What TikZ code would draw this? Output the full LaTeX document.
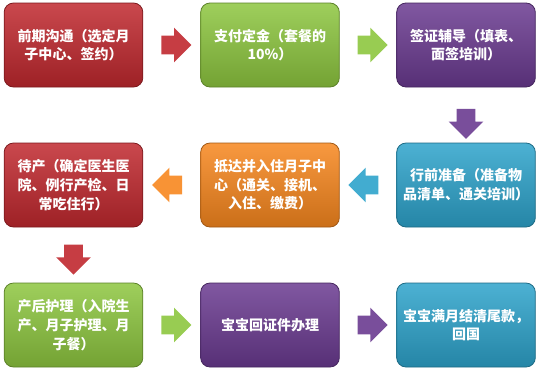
\documentclass[tikz,border=0pt]{standalone}
\usepackage{fontspec}
\newfontfamily\cjk{Noto Sans CJK SC}
\usetikzlibrary{shapes.arrows, calc}
\definecolor{boxred}{HTML}{C0282E}
\definecolor{boxgreen}{HTML}{8DC63F}
\definecolor{boxpurple}{HTML}{6A3A90}
\definecolor{boxorange}{HTML}{F7871E}
\definecolor{boxblue}{HTML}{2DA3CB}
\tikzset{
  stepbox/.style={rectangle, rounded corners=7pt, minimum width=104pt, minimum height=63pt,
    top color=#1!85!white, bottom color=#1!82!black, draw=#1!65!black, line width=0.6pt,
    text=white, font=\cjk\bfseries\fontsize{10.5}{14}\selectfont, align=center, inner sep=1pt},
  flow/.style={single arrow, draw=none, fill=#1!90!white, minimum height=22.5pt,
    inner xsep=0pt, inner ysep=6.75pt, single arrow head extend=6pt, single arrow head indent=0pt},
  flowdown/.style={flow=#1, shape border rotate=270, inner xsep=6.75pt, inner ysep=0pt},
  flowleft/.style={flow=#1, shape border rotate=180}
}
\begin{document}
\begin{tikzpicture}[x=0.75pt, y=-0.75pt]
  \useasboundingbox (0,0) rectangle (541,372);
  % first row
  \node[stepbox=boxred]    (talk)  at (73.5, 45) {前期沟通（选定月\\子中心、签约）};
  \node[stepbox=boxgreen]  (pay)   at (270, 45)  {支付定金（套餐的\\10\%）};
  \node[stepbox=boxpurple] (visa)  at (466, 45)  {签证辅导（填表、\\面签培训）};
  % second row
  \node[stepbox=boxred]    (wait)  at (73.5, 185) {待产（确定医生医\\院、例行产检、日\\常吃住行）};
  \node[stepbox=boxorange] (stay)  at (270, 185)  {抵达并入住月子中\\心（通关、接机、\\入住、缴费）};
  \node[stepbox=boxblue]   (prep)  at (466, 185)  {行前准备（准备物\\品清单、通关培训）};
  % third row
  \node[stepbox=boxgreen]  (care)  at (73.5, 325) {产后护理（入院生\\产、月子护理、月\\子餐）};
  \node[stepbox=boxpurple] (cert)  at (270, 325)  {宝宝回证件办理};
  \node[stepbox=boxblue]   (home)  at (466, 325)  {宝宝满月结清尾款，\\回国};

  \node[flow=boxred]       (a1) at ($(talk)!0.5!(pay)$)  {};
  \node[flow=boxgreen]     (a2) at ($(pay)!0.5!(visa)$)  {};
  \node[flowdown=boxpurple](a3) at ($(visa)!0.53!(prep)$) {};
  \node[flowleft=boxblue]  (a4) at ($(prep)!0.5!(stay)$) {};
  \node[flowleft=boxorange](a5) at ($(stay)!0.5!(wait)$) {};
  \node[flowdown=boxred]   (a6) at ($(wait)!0.5!(care)$) {};
  \node[flow=boxgreen]     (a7) at ($(care)!0.5!(cert)$) {};
  \node[flow=boxpurple]    (a8) at ($(cert)!0.5!(home)$) {};
\end{tikzpicture}
\end{document}
